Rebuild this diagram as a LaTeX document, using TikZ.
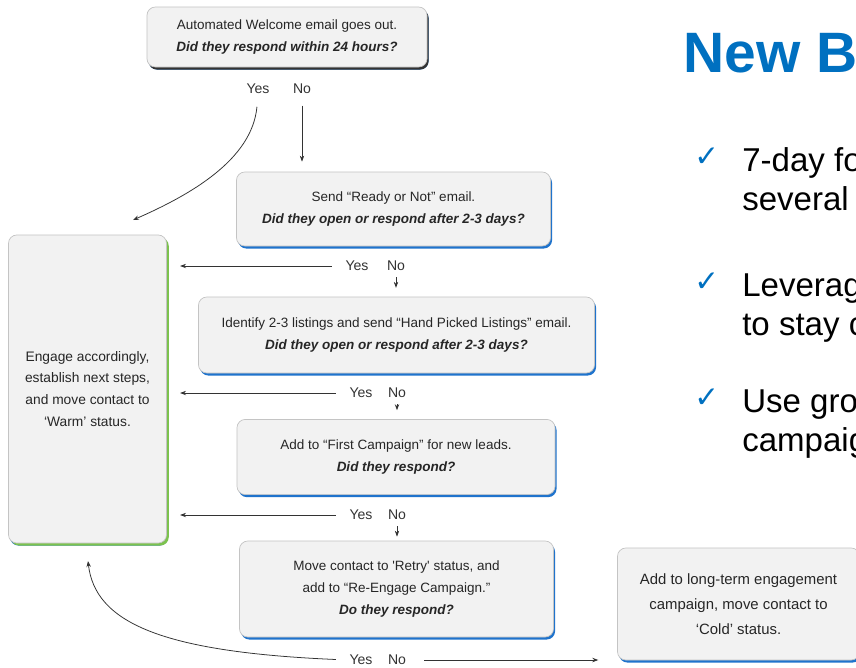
\documentclass[tikz,border=0pt]{standalone}
\usepackage{fontspec}
\setmainfont{Liberation Sans}
\newfontfamily\symfont{DejaVu Sans}
\usetikzlibrary{arrows.meta,positioning,shadows}
\definecolor{cblue}{HTML}{0070C0}
\definecolor{cshade}{HTML}{1F73CC}
\definecolor{cgreen}{HTML}{7CC24E}
\definecolor{cbox}{HTML}{F2F2F2}
\definecolor{cedge}{HTML}{C4C4C4}
\definecolor{cline}{HTML}{333333}

\begin{document}
\begin{tikzpicture}[x=0.025cm,y=-0.025cm,
  card/.style={rounded corners=6pt,draw=cedge,fill=cbox,line width=0.5pt,align=center,
               text=black!85,font=\fontsize{9.6}{15.6}\selectfont,
               drop shadow={shadow xshift=1.1pt,shadow yshift=-1.8pt,fill=cshade,opacity=1}},
  dark/.style={drop shadow={shadow xshift=1.1pt,shadow yshift=-1.8pt,fill=cline,opacity=1}},
  warmbox/.style={drop shadow={shadow xshift=1.6pt,shadow yshift=-1.8pt,fill=cgreen,opacity=1}},
  yn/.style={font=\fontsize{10}{12}\selectfont,text=black!80,inner sep=1pt},
  bul/.style={font=\fontsize{23.5}{28}\selectfont,inner sep=0,anchor=base west},
  chk/.style={font=\symfont\bfseries\fontsize{21}{24}\selectfont,text=cblue,inner sep=0,anchor=base west},
  arr/.style={-{Stealth[length=1.5mm,width=1.1mm]},line width=0.55pt,cline}]
  \useasboundingbox (0,0) rectangle (856,667);
  \clip (0,0) rectangle (856,667);

  % flow boxes
  \node[card,dark,minimum width=7.0cm,minimum height=1.5cm] (welcome) at (287,37)
    {Automated Welcome email goes out.\\\textbf{\textit{Did they respond within 24 hours?}}};
  \node[card,minimum width=7.85cm,minimum height=1.85cm] (ready) at (393.5,209)
    {Send “Ready or Not” email.\\\textbf{\textit{Did they open or respond after 2-3 days?}}};
  \node[card,minimum width=9.9cm,minimum height=1.9cm] (picked) at (396.5,335)
    {Identify 2-3 listings and send “Hand Picked Listings” email.\\\textbf{\textit{Did they open or respond after 2-3 days?}}};
  \node[card,minimum width=7.95cm,minimum height=1.88cm] (first) at (396,457)
    {Add to “First Campaign” for new leads.\\\textbf{\textit{Did they respond?}}};
  \node[card,minimum width=7.85cm,minimum height=2.4cm] (retry) at (396.5,589)
    {Move contact to \textquotesingle Retry\textquotesingle\ status, and\\add to “Re-Engage Campaign.”\\\textbf{\textit{Do they respond?}}};
  \node[card,warmbox,minimum width=3.95cm,minimum height=7.7cm,
        font=\fontsize{9.8}{15.6}\selectfont] (warm) at (87.5,389)
    {Engage accordingly,\\establish next steps,\\and move contact to\\‘Warm’ status.};
  \node[card,minimum width=6.05cm,minimum height=2.8cm,
        font=\fontsize{10.6}{17.6}\selectfont] (cold) at (738.5,604)
    {Add to long-term engagement\\campaign, move contact to\\‘Cold’ status.};

  % yes / no labels
  \node[yn] (yes1) at (258,89) {Yes};  \node[yn] (no1) at (302,89) {No};
  \node[yn] (yes2) at (357,266) {Yes}; \node[yn] (no2) at (396,266) {No};
  \node[yn] (yes3) at (361,393) {Yes}; \node[yn] (no3) at (397,393) {No};
  \node[yn] (yes4) at (361,515) {Yes}; \node[yn] (no4) at (397,515) {No};
  \node[yn] (yes5) at (361,660) {Yes}; \node[yn] (no5) at (397,660) {No};

  % connectors
  \coordinate (c1) at (133,220);
  \coordinate (c5) at (88,561);
  \draw[arr,shorten <=0.28cm] (yes1.south) .. controls (252,160) and (190,195) .. (c1);
  \draw[arr,shorten <=0.25cm,shorten >=0.25cm] (no1.south) -- (no1.south |- ready.north);
  \foreach \n in {2,3,4}
    \draw[arr,shorten <=0.3cm,shorten >=0.33cm] (yes\n.west) -- (yes\n.west -| warm.east);
  \draw[arr,shorten <=0.11cm,shorten >=0.22cm] (no2.south) -- (no2.south |- picked.north);
  \draw[arr,shorten <=0.11cm,shorten >=0.22cm] (no3.south) -- (no3.south |- first.north);
  \draw[arr,shorten <=0.11cm,shorten >=0.1cm] (no4.south) -- (no4.south |- retry.north);
  \draw[arr,shorten <=0.3cm] (yes5.west) .. controls (160,652) and (95,622) .. (c5);
  \draw[arr,shorten <=0.42cm,shorten >=0.47cm] (no5.east) -- (no5.east -| cold.west);

  % slide text on the right
  \node[anchor=base west,inner sep=0,text=cblue,font=\fontsize{40.5}{48}\selectfont\bfseries]
    (title) at (683,72) {New B};
  \foreach \y/\a/\b [count=\i] in {171/7-day fo/several,296/Leverag/to stay c,412/Use gro/campaig} {
    \node[chk] (k\i) at (694,\y-5) {✓};
    \node[bul] (p\i) at (742,\y) {\a};
    \node[bul] (q\i) at (742,\y+39.5) {\b};
  }
\end{tikzpicture}
\end{document}
